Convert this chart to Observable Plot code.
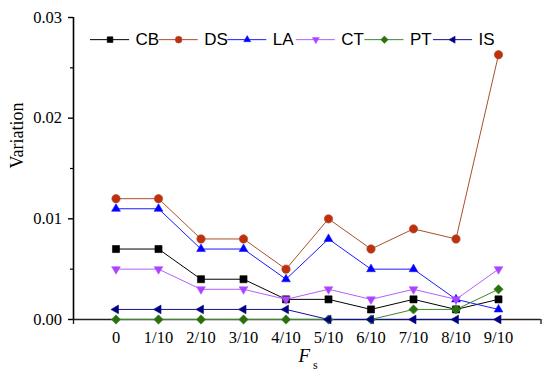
<!DOCTYPE html>
<html><head><meta charset="utf-8">
<script src="https://cdn.jsdelivr.net/npm/d3@7"></script>
<script src="https://cdn.jsdelivr.net/npm/@observablehq/plot@0.6"></script>
<style>body{margin:0;background:#fff}#chart svg{display:block}</style>
</head><body><div id="chart"></div>
<script>
// ---- data ----
const xLabels = ["0","1/10","2/10","3/10","4/10","5/10","6/10","7/10","8/10","9/10"];
const CB = [0.007,0.007,0.004,0.004,0.002,0.002,0.001,0.002,0.001,0.002];
const DS = [0.012,0.012,0.008,0.008,0.005,0.010,0.007,0.009,0.008,0.0263];
const LA = [0.011,0.011,0.007,0.007,0.004,0.008,0.005,0.005,0.002,0.001];
const CT = [0.005,0.005,0.003,0.003,0.002,0.003,0.002,0.003,0.002,0.005];
const PT = [0,0,0,0,0,0,0,0.001,0.001,0.003];
const IS = [0.001,0.001,0.001,0.001,0.001,0,0,0,0,0];
const seriesNames = ["CB","DS","LA","CT","PT","IS"];
const seriesValues = [CB, DS, LA, CT, PT, IS];
const yTicks = [0, 0.01, 0.02, 0.03];
const yMinorTicks = [0.005, 0.015, 0.025];
const yLabel = "Variation";
const xLabelMain = "F";
const xLabelSub = "s";

// ---- styles ----
function tri(angle) {
  return {draw(ctx, size) {
    const r = Math.sqrt(size) * 0.62;
    for (let k = 0; k < 3; ++k) {
      const a = angle + k * 2 * Math.PI / 3;
      const px = r * Math.cos(a), py = r * Math.sin(a);
      if (k === 0) ctx.moveTo(px, py); else ctx.lineTo(px, py);
    }
    ctx.closePath();
  }};
}
const styles = {
  CB: {line: "#000000", fill: "#000000", symbol: "square", r: 4},
  DS: {line: "#a8502c", fill: "#c0300e", symbol: "circle", r: 4.2},
  LA: {line: "#1a1aff", fill: "#0000ff", symbol: tri(-Math.PI / 2), r: 4.6},
  CT: {line: "#b060ff", fill: "#b040ff", symbol: tri(Math.PI / 2), r: 4.6},
  PT: {line: "#3a8a2a", fill: "#2a7010", symbol: "diamond2", r: 4.2},
  IS: {line: "#101090", fill: "#000080", symbol: tri(Math.PI), r: 4.6}
};

const rows = [];
seriesNames.forEach((s, k) => seriesValues[k].forEach((v, i) => rows.push({series: s, x: i, y: v})));

// legend layout (data units of the x/y scales)
const legY = 0.0278;
const legend = seriesNames.map((s, k) => {
  const x0 = -0.6 + k * 1.614;
  return {series: s, x0, x1: x0 + 0.92, xm: x0 + 0.46, xt: x0 + 1.06};
});

const marks = [];
// axes lines
marks.push(Plot.ruleY([0], {x1: -1, x2: 10, stroke: "#222", strokeWidth: 1.6}));
marks.push(Plot.ruleX([-1], {y1: 0, y2: 0.03, stroke: "#000", strokeWidth: 1.6}));
marks.push(Plot.axisY({ticks: yTicks, tickFormat: d3.format(".2f"), tickSize: 5, tickPadding: 6.5,
  fontSize: 16.5, label: null, stroke: "#000", strokeWidth: 1.4, color: "#000"}));
marks.push(Plot.axisY({ticks: yMinorTicks, tickSize: 3, text: null, label: null, stroke: "#000", strokeWidth: 1.2}));
marks.push(Plot.axisX({ticks: d3.range(xLabels.length), tickFormat: i => xLabels[i], tickSize: 0, tickPadding: 12,
  fontSize: 16.5, label: null, color: "#000"}));
marks.push(Plot.axisX({ticks: [-1, 10], tickSize: 5, text: null, label: null, stroke: "#222", strokeWidth: 1.4}));

for (const s of seriesNames) {
  const st = styles[s];
  const data = rows.filter(d => d.series === s);
  marks.push(Plot.line(data, {x: "x", y: "y", stroke: st.line, strokeWidth: 1}));
}
for (const s of seriesNames) {
  const st = styles[s];
  const data = rows.filter(d => d.series === s);
  marks.push(Plot.dot(data, {x: "x", y: "y", symbol: st.symbol, r: st.r, fill: st.fill, stroke: st.line, strokeWidth: 0.6}));
}
// legend
for (const L of legend) {
  const st = styles[L.series];
  marks.push(Plot.ruleY([legY], {x1: L.x0, x2: L.x1, stroke: st.line, strokeWidth: 1}));
  marks.push(Plot.dot([L], {x: "xm", y: () => legY, symbol: st.symbol, r: st.r * 0.8, fill: st.fill, stroke: st.line, strokeWidth: 0.6}));
}
marks.push(Plot.text(legend, {x: "xt", y: () => legY, text: "series", textAnchor: "start",
  fontFamily: "Liberation Sans, Arial, sans-serif", fontSize: 17, fill: "#000"}));

// axis titles
marks.push(Plot.text([yLabel], {frameAnchor: "left", dx: -56, rotate: -90, fontSize: 18, fill: "#000"}));
marks.push(Plot.text([xLabelMain], {frameAnchor: "bottom", dx: -3, dy: 42, fontSize: 19, fontStyle: "italic", fill: "#000"}));
marks.push(Plot.text([xLabelSub], {frameAnchor: "bottom", dx: 8, dy: 49, fontSize: 12, fill: "#000"}));

const chart = Plot.plot({
  width: 550, height: 383,
  marginLeft: 73, marginRight: 9.5, marginTop: 17, marginBottom: 64,
  x: {type: "linear", domain: [-1, 10]},
  y: {type: "linear", domain: [0, 0.03]},
  style: {fontFamily: "Liberation Serif, 'Times New Roman', serif", background: "#fff", color: "#000"},
  marks
});
document.getElementById("chart").appendChild(chart);
</script>
</body></html>
